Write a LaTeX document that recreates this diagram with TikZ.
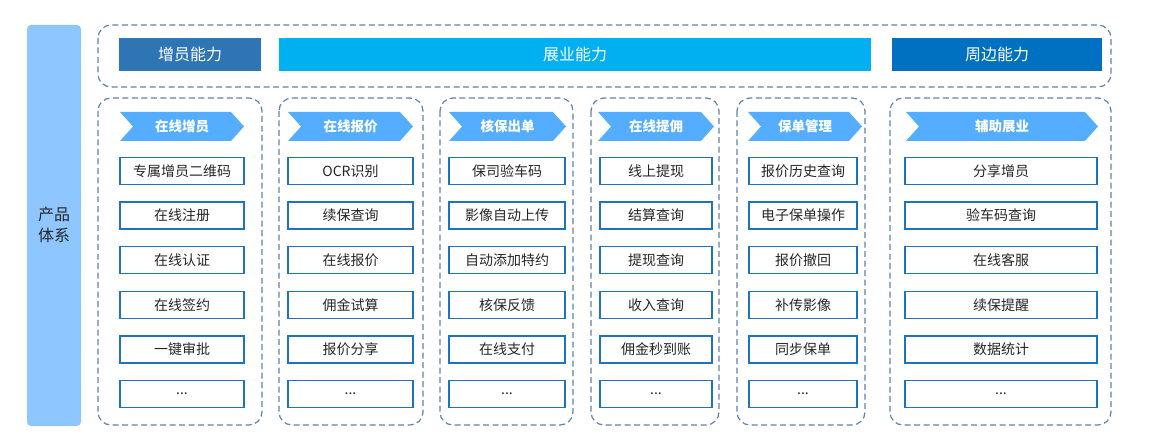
\documentclass[tikz,border=0pt]{standalone}
\usepackage{fontspec}
\setmainfont{Noto Sans CJK SC}
\definecolor{dashc}{HTML}{5F82A8}
\definecolor{itemc}{HTML}{1E73BE}
\definecolor{chevc}{HTML}{55ADFF}
\definecolor{barc}{HTML}{8EC6FF}
\definecolor{hA}{HTML}{2E75B6}
\definecolor{hB}{HTML}{00B0F0}
\definecolor{hC}{HTML}{0070C0}
\newcommand{\mydots}{...}
\newcommand{\mychev}[5]{%
  \fill[chevc] (#2,#4) -- ({#3-13},#4) -- (#3,{(#4+#5)/2}) -- ({#3-13},#5) -- (#2,#5) -- ({#2+13},{(#4+#5)/2}) -- cycle;
}
\newcommand{\myitems}[4]{%
  \foreach \t [count=\i] in {#4} {
    \node[item, minimum width={(#3-#2)*1pt}] (#1r\i) at ({(#2+#3)/2},{171+44.6*(\i-1)}) {\t};
  }
}
\begin{document}
\begin{tikzpicture}[x=1pt,y=-1pt,
  dbox/.style={draw=dashc, dash pattern=on 6pt off 3.5pt, line width=1.2pt, rounded corners=13pt},
  item/.style={draw=itemc, line width=1.4pt, fill=white, minimum height=27pt, inner sep=0pt, font=\fontsize{14}{14}\selectfont, text=black!85},
  hdr/.style={inner sep=0pt, font=\fontsize{16}{16}\selectfont, text=white},
  chevt/.style={inner sep=0pt, font=\bfseries\fontsize{13.5}{13.5}\selectfont, text=white}]
\useasboundingbox (0,0) rectangle (1160,441);
% left bar
\fill[barc, rounded corners=4pt] (27,25) rectangle (81,426);
\node[align=center, font=\fontsize{16}{21}\selectfont, text=black!85] (sys) at (54,225) {产品\\体系};
% top dashed box
\draw[dbox] (98,25) rectangle (1111,87);
\fill[hA] (119,38) rectangle (261,71);
\node[hdr] (hA) at (190,54.5) {增员能力};
\fill[hB] (279,38) rectangle (871,71);
\node[hdr] (hB) at (575,54.5) {展业能力};
\fill[hC] (892,38) rectangle (1102,71);
\node[hdr] (hC) at (997,54.5) {周边能力};
% column boxes
\draw[dbox] (98,98) rectangle (262,425);
\draw[dbox] (279,98) rectangle (423,425);
\draw[dbox] (440,98) rectangle (573,425);
\draw[dbox] (591,98) rectangle (719,425);
\draw[dbox] (737,98) rectangle (865,425);
\draw[dbox] (890,98) rectangle (1111,425);
% chevrons
\mychev{a}{120}{244}{112}{141}
\node[chevt] (ca) at (182,126.5) {在线增员};
\mychev{b}{288}{413}{112}{141}
\node[chevt] (cb) at (350.5,126.5) {在线报价};
\mychev{c}{449}{566}{112}{141}
\node[chevt] (cc) at (507.5,126.5) {核保出单};
\mychev{d}{598}{714}{112}{141}
\node[chevt] (cd) at (656,126.5) {在线提佣};
\mychev{e}{748}{862}{112}{141}
\node[chevt] (ce) at (805,126.5) {保单管理};
\mychev{f}{906}{1098}{112}{141}
\node[chevt] (cf) at (1002,126.5) {辅助展业};
% items
\myitems{a}{120}{244}{专属增员二维码,在线注册,在线认证,在线签约,一键审批,\mydots}
\myitems{b}{288}{413}{OCR识别,续保查询,在线报价,佣金试算,报价分享,\mydots}
\myitems{c}{449}{565}{保司验车码,影像自动上传,自动添加特约,核保反馈,在线支付,\mydots}
\myitems{d}{600}{712}{线上提现,结算查询,提现查询,收入查询,佣金秒到账,\mydots}
\myitems{e}{749}{857}{报价历史查询,电子保单操作,报价撤回,补传影像,同步保单,\mydots}
\myitems{f}{905}{1097}{分享增员,验车码查询,在线客服,续保提醒,数据统计,\mydots}
\end{tikzpicture}
\end{document}
